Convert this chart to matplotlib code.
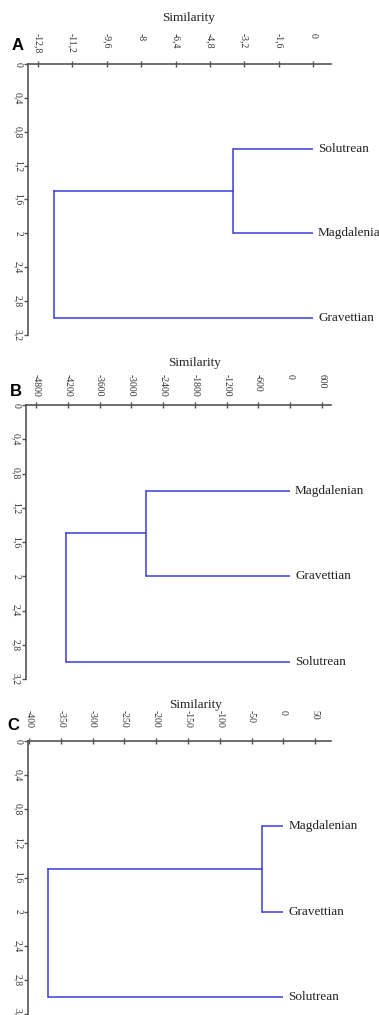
import matplotlib
matplotlib.use("Agg")
import matplotlib.pyplot as plt

# panel A: Jaccard-like similarity
leaves_a = ["Solutrean", "Magdalenian", "Gravettian"]
merges_a = [-3.75, -12.06]
ticks_a = [-12.8, -11.2, -9.6, -8, -6.4, -4.8, -3.2, -1.6, 0]
ticklabels_a = ["-12,8", "-11,2", "-9,6", "-8", "-6,4", "-4,8", "-3,2", "-1,6", "0"]

# panel B
leaves_b = ["Magdalenian", "Gravettian", "Solutrean"]
merges_b = [-2727, -4225]
ticks_b = [-4800, -4200, -3600, -3000, -2400, -1800, -1200, -600, 0, 600]
ticklabels_b = ["-4800", "-4200", "-3600", "-3000", "-2400", "-1800", "-1200", "-600", "0", "600"]

# panel C
leaves_c = ["Magdalenian", "Gravettian", "Solutrean"]
merges_c = [-33, -370]
ticks_c = [-400, -350, -300, -250, -200, -150, -100, -50, 0, 50]
ticklabels_c = ["-400", "-350", "-300", "-250", "-200", "-150", "-100", "-50", "0", "50"]

yticks = [0, 0.4, 0.8, 1.2, 1.6, 2, 2.4, 2.8, 3.2]
yticklabels = ["0", "0,4", "0,8", "1,2", "1,6", "2", "2,4", "2,8", "3,2"]

W, H = 379, 1015
blue = "#3c3cdc"
axcol = "#555555"
serif = "Liberation Serif"

fig = plt.figure(figsize=(W / 100, H / 100), dpi=100)


def px_axes(left, top, right, bottom):
    return fig.add_axes([left / W, 1 - bottom / H, (right - left) / W, (bottom - top) / H])


def panel(box, xlim, leaves, merges, ticks, ticklabels, letter, letter_xy, title_xy):
    ax = px_axes(*box)
    ax.set_xlim(*xlim)
    ax.set_ylim(3.2, 0)
    # dendrogram: first two leaves joined, then joined with the third
    y = [1, 2, 3]
    for yi in y:
        start = merges[0] if yi < 3 else merges[1]
        ax.plot([start, 0], [yi, yi], color=blue, lw=1.1, solid_capstyle="butt")
    ax.plot([merges[0], merges[0]], [1, 2], color=blue, lw=1.1)
    ax.plot([merges[1], merges[0]], [1.5, 1.5], color=blue, lw=1.1)
    ax.plot([merges[1], merges[1]], [1.5, 3], color=blue, lw=1.1)
    for yi, name in zip(y, leaves):
        ax.annotate(name, (0, yi), xytext=(3.5, 0), textcoords="offset points",
                    va="center", ha="left", fontsize=9.5, family=serif, color="#222222")

    for s in ["bottom", "right"]:
        ax.spines[s].set_visible(False)
    for s in ["top", "left"]:
        ax.spines[s].set_color(axcol)
        ax.spines[s].set_linewidth(1.2)
    ax.xaxis.tick_top()
    ax.set_xticks(ticks)
    ax.set_xticklabels(ticklabels, rotation=270, rotation_mode="anchor",
                       ha="left", va="center", fontsize=7, family=serif, color="#333333")
    ax.tick_params(axis="x", direction="inout", length=4, width=1, color=axcol, pad=20)
    ax.set_yticks(yticks)
    ax.set_yticklabels(yticklabels, rotation=270, va="center", ha="center",
                       fontsize=7, family=serif, color="#333333")
    ax.tick_params(axis="y", direction="out", length=3, width=1, color=axcol, pad=4)
    ax.patch.set_alpha(0)

    fig.text(title_xy[0] / W, 1 - title_xy[1] / H, "Similarity", ha="center", va="center",
             fontsize=9.5, family=serif, color="#222222")
    fig.text(letter_xy[0] / W, 1 - letter_xy[1] / H, letter, ha="center", va="center",
             fontsize=12, fontweight="bold", family="Liberation Sans")
    return ax


panel((28, 64, 331, 335), (-13.26, 0.83), leaves_a, merges_a, ticks_a, ticklabels_a,
      "A", (18, 45), (189, 18))
panel((26, 405, 331, 679), (-4989, 770), leaves_b, merges_b, ticks_b, ticklabels_b,
      "B", (16, 392), (195, 363))
panel((28, 741, 331, 1014), (-401.5, 75), leaves_c, merges_c, ticks_c, ticklabels_c,
      "C", (13, 725), (196, 705))

fig.savefig("out.png", dpi=100, facecolor="white")
